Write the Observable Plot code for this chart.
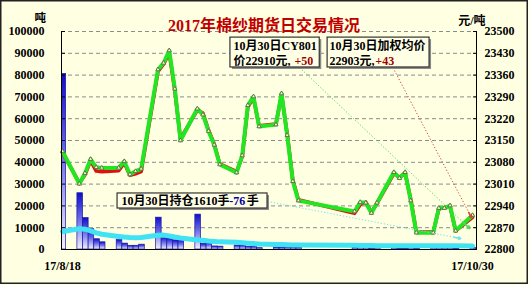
<!DOCTYPE html>
<html><head><meta charset="utf-8">
<script src="https://cdn.jsdelivr.net/npm/d3@7"></script>
<script src="https://cdn.jsdelivr.net/npm/@observablehq/plot@0.6"></script>
<style>
html,body{margin:0;padding:0;background:#fff;}
#chart{width:529px;height:285px;}
</style></head><body><div id="chart"></div>
<script>
// ---------- data ----------
const dates = ["2017-08-18","2017-08-21","2017-08-22","2017-08-23","2017-08-24","2017-08-25",
"2017-08-28","2017-08-29","2017-08-30","2017-08-31","2017-09-01",
"2017-09-04","2017-09-05","2017-09-06","2017-09-07","2017-09-08",
"2017-09-11","2017-09-12","2017-09-13","2017-09-14","2017-09-15",
"2017-09-18","2017-09-19","2017-09-20","2017-09-21","2017-09-22",
"2017-09-25","2017-09-26","2017-09-27","2017-09-28","2017-09-29",
"2017-10-09","2017-10-10","2017-10-11","2017-10-12","2017-10-13",
"2017-10-16","2017-10-17","2017-10-18","2017-10-19","2017-10-20",
"2017-10-23","2017-10-24","2017-10-25","2017-10-26","2017-10-27","2017-10-30"];
const volume = [80500,25800,14400,9300,4700,3300,
4300,2700,1700,1700,2200,
14600,5700,5200,4200,4300,
16000,2600,3300,1400,1300,
1800,1800,1200,1100,600,
900,900,1000,900,700,
800,900,900,500,700,
600,300,300,700,400,
700,700,600,600,300,600];
const openInterest = [8300,9500,9300,8500,7600,7000,
6000,5700,5500,5400,5500,
6500,6600,6200,5700,5300,
4400,4200,3900,3700,3500,
3300,3100,2900,2700,2500,
2300,2250,2200,2100,2050,
1900,1850,1800,1780,1760,
1750,1740,1730,1720,1710,
1700,1700,1690,1690,1686,1610];
const closePrice = [23115,23011,23045,23090,23064,23062,
23062,23083,23041,23051,23059,
23378,23399,23439,23316,23150,
23252,23233,23180,23136,23073,
23047,23102,23263,23291,23195,
23201,23301,23167,23019,22957,
22922,22952,22950,22917,22950,
23048,23029,23048,22957,22854,
22854,22933,22933,22941,22860,22910];
const avgPrice = [23112,23013,23040,23085,23052,23050,
23053,23078,23038,23043,23050,
23372,23395,23432,23310,23155,
23248,23238,23183,23140,23075,
23050,23098,23258,23286,23197,
23203,23296,23172,23024,22960,
22916,22944,22952,22920,22948,
23044,23032,23045,22962,22856,
22856,22930,22935,22938,22860,22903];
const leftTicks = [0,10000,20000,30000,40000,50000,60000,70000,80000,90000,100000];
const rightTicks = [22800,22870,22940,23010,23080,23150,23220,23290,23360,23430,23500];
const xTickDates = ["2017-08-18","2017-10-30"];
const xTickLabels = ["17/8/18","17/10/30"];
const titleText = "2017年棉纱期货日交易情况";
const leftUnit = "吨";
const rightUnit = "元/吨";
const note1 = ["10月30日CY801","价22910元,","+50"];
const note2 = ["10月30日加权均价","22903元,","+43"];
const note3 = ["10月30日持仓1610手","-76","手"];

// ---------- helpers ----------
const DAY = 864e5;
const parse = s => new Date(s + "T00:00:00Z");
const t0 = +parse(dates[0]), t1 = +parse(dates[dates.length-1]);
const at = n => new Date(t0 + n*DAY);
const pMin = rightTicks[0], pMax = rightTicks[rightTicks.length-1];
const lMax = leftTicks[leftTicks.length-1];
const toLeft = p => (p - pMin) / (pMax - pMin) * lMax;
const toPrice = v => String(Math.round(pMin + v / lMax * (pMax - pMin)));

const rows = dates.map((d,i) => ({date: parse(d), vol: volume[i], oi: openInterest[i], close: closePrice[i], avg: avgPrice[i]}));
const xLabelMap = new Map(xTickDates.map((d,i) => [+parse(d), xTickLabels[i]]));

const FONT = "'Liberation Serif','Noto Sans CJK SC',serif";
const CJK = "'Liberation Serif','Noto Sans CJK SC',sans-serif";
const xDomain = [new Date(t0 - 0.18*DAY), new Date(t1 + 0.71*DAY)];

function callout(x1,y1,x2,y2,color){
  const fx = x1 + (x2-x1)*0.965, fy = y1 + (y2-y1)*0.965;
  return [
    Plot.link([0],{x1:at(x1),y1:y1,x2:at(x2),y2:y2,stroke:color,strokeWidth:1,strokeDasharray:"1.2,2"}),
    Plot.arrow([0],{x1:at(fx),y1:fy,x2:at(x2),y2:y2,stroke:color,strokeWidth:1.6,headLength:5})
  ];
}
function box(x1,x2,y1,y2){
  return [
    Plot.rect([0],{x1:at(x1),x2:at(x2),y1:y1,y2:y2,fill:"#8a8a8a",dx:2,dy:2}),
    Plot.rect([0],{x1:at(x1),x2:at(x2),y1:y1,y2:y2,fill:"#FFFFE6",stroke:"#333",strokeWidth:1.2})
  ];
}
const txt = (s,x,y,fill="#000") => Plot.text([s],{x:at(x),y:y,text:d=>d,textAnchor:"start",fill,fontSize:12,fontWeight:"bold",fontFamily:CJK});

const plot = Plot.plot({
  width: 529, height: 285,
  marginLeft: 61, marginRight: 53, marginTop: 31, marginBottom: 36,
  style: {background:"#FFFFE1", fontFamily: FONT, fontSize:"12px", fontWeight:"bold", overflow:"hidden"},
  x: {type:"utc", domain: xDomain, label: null},
  y: {domain: [0, lMax], label: null},
  marks: [
    Plot.ruleY(leftTicks.slice(1), {stroke:"#8c8c8c", strokeWidth:1, strokeDasharray:"4,3"}),
    Plot.rectY(rows, {x1: d => new Date(+d.date - 0.35*DAY), x2: d => new Date(+d.date + 0.65*DAY), y: "vol",
      fill: "url(#volGrad)", stroke:"#1818a8", strokeWidth:0.7, clip:true}),
    Plot.line(rows, {x:"date", y: d => d.oi, stroke:"#3fe3f3", strokeWidth:5}),
    Plot.line(rows, {x:"date", y: d => toLeft(d.avg), stroke:"#e01010", strokeWidth:3.6}),
    Plot.line(rows, {x:"date", y: d => toLeft(d.close), stroke:"#22e622", strokeWidth:4}),
    Plot.dot(rows, {x:"date", y: d => toLeft(d.close), symbol:"triangle", r:1.6, fill:"#ffffa8", stroke:"#555", strokeWidth:0.8}),
    Plot.ruleY([0], {stroke:"#000", strokeWidth:1}),
    Plot.ruleX(xDomain, {stroke:"#000", strokeWidth:1}),
    Plot.axisY({anchor:"left", ticks:leftTicks, tickSize:-4, fill:"none", label:null}),
    Plot.axisY({anchor:"left", ticks:leftTicks, tickSize:0, tickPadding:17, tickFormat:d=>String(d), label:null, fontWeight:"bold"}),
    Plot.axisY({anchor:"right", ticks:rightTicks.map(toLeft), tickSize:-4, fill:"none", label:null}),
    Plot.axisY({anchor:"right", ticks:rightTicks.map(toLeft), tickSize:0, tickPadding:8, tickFormat:toPrice, label:null, fontWeight:"bold"}),
    Plot.axisX({ticks: xTickDates.map(parse), tickSize:0, tickPadding:12, tickFormat: d => xLabelMap.get(+d), label:null, fontWeight:"bold"}),
    Plot.text([titleText], {frameAnchor:"top", dx:-5, dy:-12, fontSize:16, fontWeight:"bold", fill:"#C00000", fontFamily:CJK}),
    Plot.text([leftUnit], {frameAnchor:"top-left", dx:-27, dy:-18, fontSize:11.5, fontWeight:"bold", fontFamily:CJK}),
    Plot.text([rightUnit], {frameAnchor:"top-right", dx:9, dy:-15, fontSize:12, fontWeight:"bold", fontFamily:CJK}),
    ...callout(42.2, 83490, 72.5, 9630, "#55d855"),
    ...callout(59.1, 82110, 72.8, 14680, "#d84040"),
    ...callout(36.5, 22020, 70.9, 5046, "#70e0f0"),
    ...box(29.9, 45.8, 83500, 97200),
    ...box(47.2, 65.35, 83500, 97200),
    ...box(9.8, 36.5, 18800, 25700),
    txt(note1[0], 30.45, 93100),
    txt(note1[1], 30.45, 86300),
    txt(note1[2], 41.3, 86300, "#A00000"),
    txt(note2[0], 47.55, 93100),
    txt(note2[1], 47.55, 86300),
    txt(note2[2], 55.7, 86300, "#A00000"),
    txt(note3[0], 10.5, 22250),
    txt(note3[1], 29.7, 22250, "#0000A0"),
    txt(note3[2], 32.8, 22250)
  ]
});
const svg = d3.select(plot);
svg.insert("defs", ":first-child").html(
  '<linearGradient id="volGrad" x1="0" y1="0" x2="0" y2="1">' +
  '<stop offset="0" stop-color="#0e0ec8"/><stop offset="0.5" stop-color="#7474ea"/><stop offset="1" stop-color="#f2f2ff"/>' +
  '</linearGradient>');
svg.append("rect").attr("x",0.75).attr("y",0.75).attr("width",526.5).attr("height",282.5)
  .attr("fill","none").attr("stroke","#222").attr("stroke-width",1.5);
document.getElementById("chart").appendChild(plot);
</script></body></html>
